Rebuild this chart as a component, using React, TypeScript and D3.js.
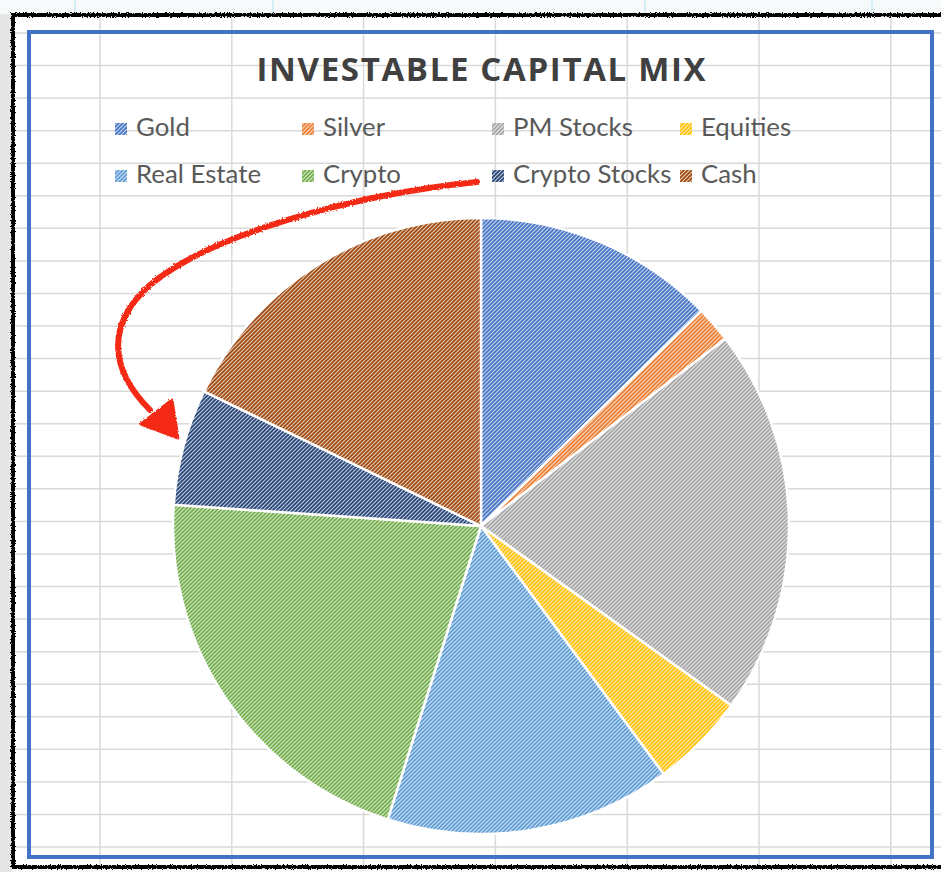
import { useEffect, useRef } from "react"
import * as d3 from "d3"

const categories = ["Gold", "Silver", "PM Stocks", "Equities", "Real Estate", "Crypto", "Crypto Stocks", "Cash"]
const shares = [12.7, 1.9, 20.3, 5.0, 15.0, 21.2, 6.1, 17.8]
const colors = ["#4472C4", "#ED7D31", "#A5A5A5", "#FFC000", "#5B9BD5", "#70AD47", "#264478", "#9E480E"]
const title = "INVESTABLE CAPITAL MIX"

const W = 941
const H = 872

export default function App() {
  const svgRef = useRef<SVGSVGElement>(null)

  useEffect(() => {
    if (!svgRef.current) return
    const svg = d3.select(svgRef.current)
    svg.selectAll("*").remove()

    const data = categories.map((name, i) => ({ name, value: shares[i], color: colors[i] }))

    const defs = svg.append("defs")

    // hatch patterns, one per slice
    data.forEach((d, i) => {
      const p = defs
        .append("pattern")
        .attr("id", `hatch${i}`)
        .attr("patternUnits", "userSpaceOnUse")
        .attr("width", 4)
        .attr("height", 4)
      p.append("rect").attr("width", 4).attr("height", 4).attr("fill", d3.interpolateRgb(d.color, "#fff")(0.7))
      p.append("path")
        .attr("d", "M-1,1 l2,-2 M0,4 l4,-4 M3,5 l2,-2")
        .attr("stroke", d.color)
        .attr("stroke-width", 1.6)
    })

    // rough edge for the marker arrow
    const rough = defs.append("filter").attr("id", "rough").attr("x", "-5%").attr("y", "-5%").attr("width", "110%").attr("height", "110%")
    rough.append("feTurbulence").attr("type", "fractalNoise").attr("baseFrequency", 0.6).attr("numOctaves", 2).attr("result", "n")
    rough.append("feDisplacementMap").attr("in", "SourceGraphic").attr("in2", "n").attr("scale", 3)

    // torn paper edge
    const torn = defs.append("filter").attr("id", "torn")
      .attr("filterUnits", "userSpaceOnUse").attr("x", 0).attr("y", 0).attr("width", W).attr("height", H)
    torn.append("feTurbulence").attr("type", "fractalNoise").attr("baseFrequency", 0.8).attr("numOctaves", 2).attr("result", "n")
    torn.append("feDisplacementMap").attr("in", "SourceGraphic").attr("in2", "n").attr("scale", 4)

    // outside backdrop
    svg.append("rect").attr("width", W).attr("height", H).attr("fill", "#f7fafb")
    svg.append("g")
      .selectAll("line")
      .data([75, 273, 645, 872])
      .join("line")
      .attr("x1", (d) => d)
      .attr("x2", (d) => d)
      .attr("y1", 0)
      .attr("y2", 14)
      .attr("stroke", "#d6eef6")
      .attr("stroke-width", 2)
    svg.append("rect").attr("x", 0).attr("y", 14).attr("width", 12).attr("height", H).attr("fill", "#e6e6e6")

    // sheet area
    svg.append("rect").attr("x", 12).attr("y", 14).attr("width", W - 12).attr("height", 854).attr("fill", "#fff")

    const grid = svg.append("g").attr("stroke", "#d9d9d9").attr("stroke-width", 1.5)
    const colX = d3.range(7).map((i) => 100 + i * 131.8)
    const rowY = d3.range(26).map((i) => 33 + i * 32.56)
    grid.selectAll(".v").data(colX).join("line").attr("class", "v")
      .attr("x1", (d) => d).attr("x2", (d) => d).attr("y1", 14).attr("y2", 868)
    grid.selectAll(".h").data(rowY).join("line").attr("class", "h")
      .attr("x1", 12).attr("x2", W).attr("y1", (d) => d).attr("y2", (d) => d)

    // torn black edge: solid core plus a jagged overlay
    const edge = `M${W + 8},15 L13,15 L13,867 L${W + 8},867`
    svg.append("path")
      .attr("d", edge)
      .attr("fill", "none")
      .attr("stroke", "#111")
      .attr("stroke-width", 2.5)
    svg.append("path")
      .attr("d", edge)
      .attr("fill", "none")
      .attr("stroke", "#000")
      .attr("stroke-width", 4)
      .attr("filter", "url(#torn)")

    // chart area border
    svg.append("rect")
      .attr("x", 29)
      .attr("y", 32)
      .attr("width", 903)
      .attr("height", 825)
      .attr("fill", "none")
      .attr("stroke", "#4472C4")
      .attr("stroke-width", 4)

    // title
    svg.append("text")
      .attr("x", 481)
      .attr("y", 81)
      .attr("text-anchor", "middle")
      .attr("font-family", "'Open Sans', sans-serif")
      .attr("font-weight", 700)
      .attr("font-size", 33)
      .attr("fill", "#404040")
      .attr("textLength", 449)
      .attr("lengthAdjust", "spacing")
      .text(title)

    // legend
    const colPos = [115, 302, 492, 680]
    const legend = svg.append("g")
      .selectAll("g")
      .data(data)
      .join("g")
      .attr("transform", (d, i) => `translate(${colPos[i % 4]},${i < 4 ? 123 : 170})`)
    legend.append("rect")
      .attr("width", 12)
      .attr("height", 12)
      .attr("fill", (d, i) => `url(#hatch${i})`)
    legend.append("text")
      .attr("x", 21)
      .attr("y", 12.5)
      .attr("font-family", "Lato, sans-serif")
      .attr("font-size", 25.8)
      .attr("fill", "#595959")
      .text((d) => d.name)

    // pie
    const cx = 481
    const cy = 526
    const radius = 308
    const pie = d3.pie<{ name: string; value: number; color: string }>().sort(null).value((d) => d.value)
    const arc = d3.arc<d3.PieArcDatum<{ name: string; value: number; color: string }>>().innerRadius(0).outerRadius(radius)

    svg.append("g")
      .attr("transform", `translate(${cx},${cy})`)
      .selectAll("path")
      .data(pie(data))
      .join("path")
      .attr("d", arc)
      .attr("fill", (d, i) => `url(#hatch${i})`)
      .attr("stroke", "#fff")
      .attr("stroke-width", 2.5)
      .attr("stroke-linejoin", "round")

    // hand drawn red arrow
    const arrow = svg.append("g").attr("filter", "url(#rough)")
    arrow.append("path")
      .attr("d", "M477,182 C350,195 210,235 150,285 C105,325 110,370 150,410")
      .attr("fill", "none")
      .attr("stroke", "#f42b12")
      .attr("stroke-width", 6)
      .attr("stroke-linecap", "round")
    arrow.append("path")
      .attr("d", "M141,424 L172,400 L178,438 Z")
      .attr("fill", "#f42b12")
      .attr("stroke", "#f42b12")
      .attr("stroke-width", 3)
      .attr("stroke-linejoin", "round")
  }, [])

  return (
    <svg
      ref={svgRef}
      width={W}
      height={H}
      style={{ position: "absolute", left: 0, top: 0, display: "block" }}
    />
  )
}
